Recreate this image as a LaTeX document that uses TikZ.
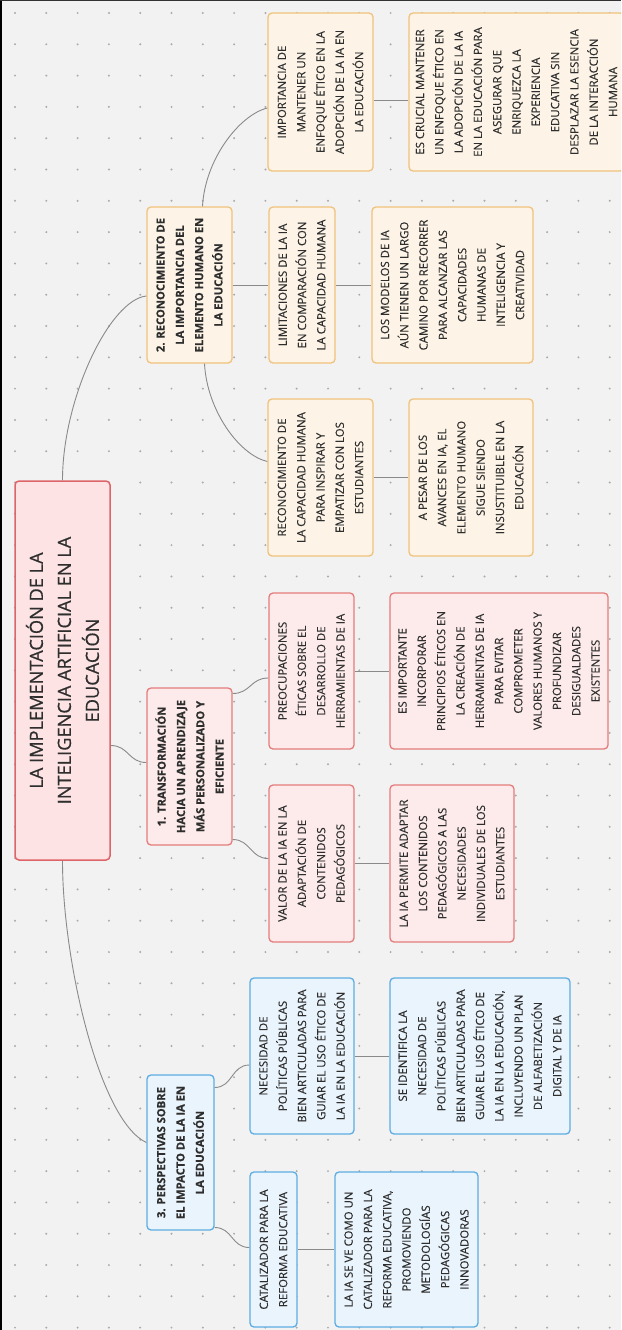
\documentclass[tikz,border=0pt]{standalone}
\usepackage{fontspec}
\usetikzlibrary{calc}
\newfontfamily\osans[FakeBold=0.3]{Open Sans}
\newfontfamily\osroot[FakeBold=0.6]{Open Sans}
\definecolor{bg}{HTML}{F2F2F2}
\definecolor{dotc}{HTML}{ABABAB}
\definecolor{txt}{HTML}{2E2E2E}
\definecolor{lnc}{HTML}{8A8A8A}
\definecolor{rootfill}{HTML}{FDE3E3}
\definecolor{rootdraw}{HTML}{DD6468}
\definecolor{rfill}{HTML}{FCEBEA}
\definecolor{rdraw}{HTML}{E57C7C}
\definecolor{ofill}{HTML}{FDF4E7}
\definecolor{odraw}{HTML}{F0C27C}
\definecolor{bfill}{HTML}{EAF4FC}
\definecolor{bdraw}{HTML}{5EADE2}
\tikzset{
  box/.style={rotate=90, rounded corners=4pt, line width=1.3pt, align=center,
    inner sep=0pt, text=txt, font=\osans\fontsize{11.4}{19.3}\selectfont},
  obox/.style={box, draw=odraw, fill=ofill},
  rbox/.style={box, draw=rdraw, fill=rfill},
  bbox/.style={box, draw=bdraw, fill=bfill},
  lone/.style={font=\osans\bfseries\fontsize{11.2}{19.3}\selectfont},
  rootbox/.style={box, draw=rootdraw, fill=rootfill, line width=1.5pt,
    font=\osroot\fontsize{18.2}{28}\selectfont},
  conn/.style={draw=lnc, line width=0.9pt}
}
\begin{document}
\begin{tikzpicture}[x=1pt,y=-1pt]
\useasboundingbox (0,0) rectangle (621,1330);
\fill[bg] (0,0) rectangle (621,1330);
\clip (0,0) rectangle (621,1330);
\foreach \i in {0,...,19}{
  \foreach \j in {0,...,42}{
    \fill[dotc] ({15+31.3*\i},{13+31.3*\j}) circle (1.1pt);
  }
}
\draw[black, line width=4pt] (0,0) -- (0,1330);
\draw[black!80, line width=2pt] (0,0) -- (621,0);

% root
\node[rootbox, minimum width=379, minimum height=95] (root) at (62.5,670.5)
  {LA IMPLEMENTACIÓN DE LA\\INTELIGENCIA ARTIFICIAL EN LA\\EDUCACIÓN};

% level 1
\node[obox, lone, minimum width=156, minimum height=85] (n2) at (189.5,285)
  {2. RECONOCIMIENTO DE\\LA IMPORTANCIA DEL\\ELEMENTO HUMANO EN\\LA EDUCACIÓN};
\node[rbox, lone, minimum width=157, minimum height=85] (n1) at (189.5,766.5)
  {1. TRANSFORMACIÓN\\HACIA UN APRENDIZAJE\\MÁS PERSONALIZADO Y\\EFICIENTE};
\node[bbox, lone, minimum width=155, minimum height=67] (n3) at (180.5,1152.5)
  {3. PERSPECTIVAS SOBRE\\EL IMPACTO DE LA IA EN\\LA EDUCACIÓN};

% level 2
\node[obox, minimum width=158, minimum height=105] (oa) at (320.5,92)
  {IMPORTANCIA DE\\MANTENER UN\\ENFOQUE ÉTICO EN LA\\ADOPCIÓN DE LA IA EN\\LA EDUCACIÓN};
\node[obox, minimum width=156, minimum height=66] (ob) at (302,285)
  {LIMITACIONES DE LA IA\\EN COMPARACIÓN CON\\LA CAPACIDAD HUMANA};
\node[obox, minimum width=157, minimum height=105] (oc) at (320.5,477.5)
  {RECONOCIMIENTO DE\\LA CAPACIDAD HUMANA\\PARA INSPIRAR Y\\EMPATIZAR CON LOS\\ESTUDIANTES};
\node[rbox, minimum width=156, minimum height=85] (ra) at (311.5,671)
  {PREOCUPACIONES\\ÉTICAS SOBRE EL\\DESARROLLO DE\\HERRAMIENTAS DE IA};
\node[rbox, minimum width=157, minimum height=85] (rb) at (311.5,863.5)
  {VALOR DE LA IA EN LA\\ADAPTACIÓN DE\\CONTENIDOS\\PEDAGÓGICOS};
\node[bbox, minimum width=156, minimum height=104] (ba) at (302,1056)
  {NECESIDAD DE\\POLÍTICAS PÚBLICAS\\BIEN ARTICULADAS PARA\\GUIAR EL USO ÉTICO DE\\LA IA EN LA EDUCACIÓN};
\node[bbox, minimum width=155, minimum height=47] (bb) at (273.5,1249.5)
  {CATALIZADOR PARA LA\\REFORMA EDUCATIVA};

% level 3
\node[obox, minimum width=158, minimum height=215] (oa2) at (516.5,92)
  {ES CRUCIAL MANTENER\\UN ENFOQUE ÉTICO EN\\LA ADOPCIÓN DE LA IA\\EN LA EDUCACIÓN PARA\\ASEGURAR QUE\\ENRIQUEZCA LA\\EXPERIENCIA\\EDUCATIVA SIN\\DESPLAZAR LA ESENCIA\\DE LA INTERACCIÓN\\HUMANA};
\node[obox, minimum width=156, minimum height=161] (ob2) at (452.5,285)
  {LOS MODELOS DE IA\\AÚN TIENEN UN LARGO\\CAMINO POR RECORRER\\PARA ALCANZAR LAS\\CAPACIDADES\\HUMANAS DE\\INTELIGENCIA Y\\CREATIVIDAD};
\node[obox, minimum width=157, minimum height=124] (oc2) at (471,477.5)
  {A PESAR DE LOS\\AVANCES EN IA, EL\\ELEMENTO HUMANO\\SIGUE SIENDO\\INSUSTITUIBLE EN LA\\EDUCACIÓN};
\node[rbox, minimum width=156, minimum height=218] (ra2) at (499,671)
  {ES IMPORTANTE\\INCORPORAR\\PRINCIPIOS ÉTICOS EN\\LA CREACIÓN DE\\HERRAMIENTAS DE IA\\PARA EVITAR\\COMPROMETER\\VALORES HUMANOS Y\\PROFUNDIZAR\\DESIGUALDADES\\EXISTENTES};
\node[rbox, minimum width=157, minimum height=124] (rb2) at (452,863.5)
  {LA IA PERMITE ADAPTAR\\LOS CONTENIDOS\\PEDAGÓGICOS A LAS\\NECESIDADES\\INDIVIDUALES DE LOS\\ESTUDIANTES};
\node[bbox, minimum width=156, minimum height=180] (ba2) at (480,1056)
  {SE IDENTIFICA LA\\NECESIDAD DE\\POLÍTICAS PÚBLICAS\\BIEN ARTICULADAS PARA\\GUIAR EL USO ÉTICO DE\\LA IA EN LA EDUCACIÓN,\\INCLUYENDO UN PLAN\\DE ALFABETIZACIÓN\\DIGITAL Y DE IA};
\node[bbox, minimum width=155, minimum height=143] (bb2) at (406.5,1249.5)
  {LA IA SE VE COMO UN\\CATALIZADOR PARA LA\\REFORMA EDUCATIVA,\\PROMOVIENDO\\METODOLOGÍAS\\PEDAGÓGICAS\\INNOVADORAS};

% connectors root -> level 1
\draw[conn] (root.east) .. controls +(0,-81) and +(-37,4) .. ($(n2.north)+(0,11)$);
\draw[conn] ($(root.south)+(0,75)$) .. controls +(18,0) and +(-18,0) .. ($(n1.north)+(0,-4)$);
\draw[conn] (root.west) .. controls +(0,100) and +(-47,-22) .. ($(n3.north)+(0,-10)$);

% level 1 -> level 2
\draw[conn] ($(n2.east)+(13,0)$) .. controls +(2.5,-47) and +(-28,7) .. ($(oa.north)+(0,16)$);
\draw[conn] (n2.south) -- (ob.north);
\draw[conn] ($(n2.west)+(15,0)$) .. controls +(2.5,47) and +(-28,-6.5) .. ($(oc.north)+(0,-16)$);
\draw[conn] ($(n1.south)+(0,-73)$) .. controls +(18,0) and +(-18,0) .. ($(ra.north)+(0,7)$);
\draw[conn] ($(n1.south)+(0,73)$) .. controls +(18,0) and +(-18,0) .. ($(rb.north)+(0,-5)$);
\draw[conn] ($(n3.south)+(0,-65)$) .. controls +(18,0) and +(-18,0) .. ($(ba.north)+(0,9)$);
\draw[conn] ($(n3.south)+(0,75)$) .. controls +(18,0) and +(-18,0) .. ($(bb.north)+(0,-2)$);

% level 2 -> level 3
\draw[conn] ($(oa.south)+(0,8)$) -- ($(oa2.north)+(0,8)$);
\draw[conn] (ob.south) -- (ob2.north);
\draw[conn] (oc.south) -- (oc2.north);
\draw[conn] (ra.south) -- (ra2.north);
\draw[conn] (rb.south) -- (rb2.north);
\draw[conn] (ba.south) -- (ba2.north);
\draw[conn] (bb.south) -- (bb2.north);
\end{tikzpicture}
\end{document}
